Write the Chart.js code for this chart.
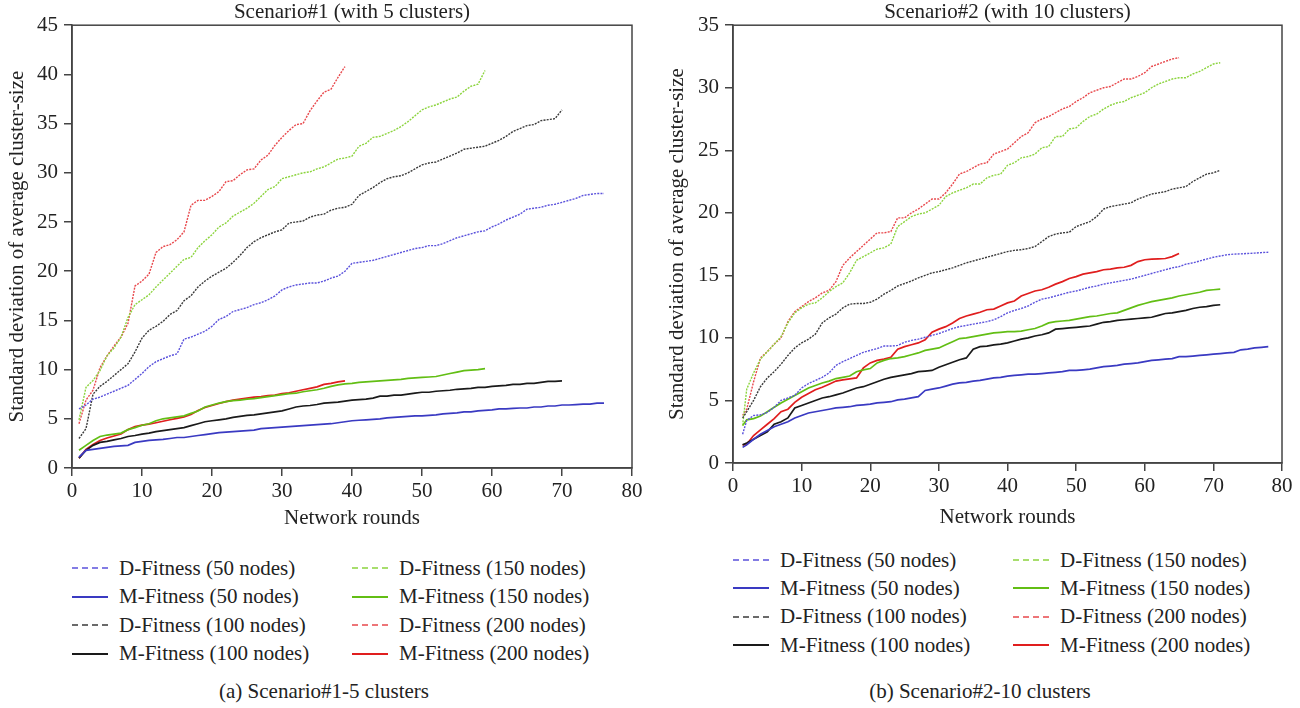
<!DOCTYPE html>
<html>
<head>
<meta charset="utf-8">
<script src="https://cdn.jsdelivr.net/npm/chart.js@4.4.1/dist/chart.umd.min.js"></script>
<style>
  body {
    margin: 0;
    background: #fff;
    width: 1300px;
    height: 708px;
    position: relative;
    overflow: hidden;
    font-family: "Liberation Serif", "Times New Roman", serif;
    color: #222;
  }
  canvas { position: absolute; top: 0; }
  #chart1 { left: 0; }
  #chart2 { left: 660px; }
  .legend-item {
    position: absolute;
    height: 28px;
    display: flex;
    align-items: center;
    white-space: nowrap;
    font-size: 21px;
  }
  .legend-item svg { margin-right: 11px; }
  .caption {
    position: absolute;
    top: 679px;
    font-size: 21px;
    white-space: nowrap;
    transform: translateX(-50%);
  }
</style>
</head>
<body>
<canvas id="chart1" width="650" height="531"></canvas>
<canvas id="chart2" width="640" height="530"></canvas>
<div id="legend1"></div>
<div id="legend2"></div>
<div class="caption" style="left:324px">(a) Scenario#1-5 clusters</div>
<div class="caption" style="left:980px">(b) Scenario#2-10 clusters</div>

<script>
const seriesNames = [
  "D-Fitness (50 nodes)", "M-Fitness (50 nodes)",
  "D-Fitness (100 nodes)", "M-Fitness (100 nodes)",
  "D-Fitness (150 nodes)", "M-Fitness (150 nodes)",
  "D-Fitness (200 nodes)", "M-Fitness (200 nodes)"
];

const xTicks = [0, 10, 20, 30, 40, 50, 60, 70, 80];

// Scenario#1 (5 clusters), one value per network round starting at round 1
const s1D50 = [6.0, 6.4, 7.0, 7.2, 7.5, 7.8, 8.1, 8.4, 9.0, 9.6, 10.3, 10.8, 11.1, 11.4, 11.6, 13.1, 13.3, 13.6, 13.9, 14.4,
  15.1, 15.4, 15.9, 16.1, 16.3, 16.6, 16.8, 17.1, 17.5, 18.1, 18.4, 18.6, 18.7, 18.8, 18.8, 19.0, 19.3, 19.5, 20.0, 20.8,
  20.9, 21.0, 21.1, 21.3, 21.5, 21.7, 21.9, 22.1, 22.3, 22.4, 22.6, 22.6, 22.8, 23.1, 23.4, 23.6, 23.8, 24.0, 24.1, 24.5,
  24.8, 25.2, 25.5, 25.8, 26.3, 26.4, 26.5, 26.7, 26.8, 27.0, 27.2, 27.4, 27.7, 27.8, 27.9, 27.9];
const s1M50 = [1.1, 1.8, 1.9, 2.0, 2.1, 2.2, 2.25, 2.3, 2.6, 2.7, 2.8, 2.85, 2.9, 3.0, 3.1, 3.1, 3.2, 3.3, 3.4, 3.5,
  3.6, 3.65, 3.7, 3.75, 3.8, 3.85, 4.0, 4.05, 4.1, 4.15, 4.2, 4.25, 4.3, 4.35, 4.4, 4.45, 4.5, 4.6, 4.7, 4.8,
  4.85, 4.9, 4.95, 5.0, 5.1, 5.15, 5.2, 5.25, 5.3, 5.3, 5.35, 5.4, 5.5, 5.55, 5.6, 5.7, 5.7, 5.8, 5.85, 5.9,
  6.0, 6.0, 6.05, 6.1, 6.1, 6.2, 6.2, 6.3, 6.3, 6.4, 6.4, 6.45, 6.5, 6.5, 6.6, 6.6];
const s1D100 = [3.0, 4.0, 7.5, 8.3, 8.8, 9.4, 10.0, 10.6, 11.8, 13.2, 14.0, 14.4, 14.9, 15.6, 16.0, 17.0, 17.5, 18.4, 19.0, 19.5,
  19.9, 20.3, 20.9, 21.6, 22.4, 23.0, 23.4, 23.7, 24.0, 24.2, 24.9, 25.0, 25.1, 25.5, 25.7, 25.8, 26.2, 26.4, 26.5, 26.8,
  27.7, 28.1, 28.5, 29.0, 29.4, 29.6, 29.7, 30.0, 30.4, 30.8, 31.0, 31.1, 31.4, 31.7, 32.0, 32.4, 32.5, 32.6, 32.7, 33.0,
  33.3, 33.7, 34.2, 34.5, 34.8, 34.9, 35.3, 35.4, 35.5, 36.4];
const s1M100 = [1.0, 1.8, 2.3, 2.6, 2.7, 2.85, 3.0, 3.2, 3.3, 3.45, 3.55, 3.7, 3.8, 3.9, 4.0, 4.1, 4.3, 4.5, 4.7, 4.8,
  4.9, 5.0, 5.15, 5.25, 5.35, 5.4, 5.5, 5.6, 5.7, 5.8, 6.0, 6.2, 6.3, 6.35, 6.45, 6.6, 6.65, 6.7, 6.8, 6.9,
  6.95, 7.0, 7.1, 7.3, 7.3, 7.4, 7.4, 7.5, 7.6, 7.7, 7.7, 7.8, 7.85, 7.9, 8.0, 8.05, 8.1, 8.2, 8.2, 8.3,
  8.35, 8.4, 8.5, 8.5, 8.6, 8.6, 8.7, 8.8, 8.8, 8.85];
const s1D150 = [4.9, 8.2, 8.9, 9.9, 11.4, 12.2, 13.3, 15.3, 16.6, 17.1, 17.6, 18.4, 19.1, 19.8, 20.5, 21.2, 21.4, 22.4, 23.1, 23.7,
  24.5, 24.9, 25.6, 26.0, 26.4, 26.9, 27.6, 28.3, 28.6, 29.4, 29.6, 29.8, 30.0, 30.1, 30.4, 30.6, 31.0, 31.4, 31.5, 31.7,
  32.7, 33.0, 33.6, 33.7, 34.0, 34.3, 34.7, 35.2, 35.8, 36.4, 36.7, 36.9, 37.2, 37.5, 37.7, 38.3, 38.8, 39.0, 40.4];
const s1M150 = [1.8, 2.3, 2.8, 3.2, 3.35, 3.45, 3.55, 3.9, 4.1, 4.35, 4.5, 4.8, 5.0, 5.1, 5.2, 5.3, 5.55, 5.8, 6.2, 6.4,
  6.6, 6.75, 6.85, 6.9, 7.0, 7.05, 7.15, 7.25, 7.35, 7.45, 7.55, 7.6, 7.75, 7.85, 7.95, 8.1, 8.3, 8.45, 8.55, 8.6,
  8.7, 8.75, 8.8, 8.85, 8.9, 8.95, 9.0, 9.1, 9.15, 9.2, 9.25, 9.3, 9.45, 9.6, 9.75, 9.9, 9.95, 10.0, 10.1];
const s1D200 = [4.5, 6.9, 7.9, 10.2, 11.4, 12.4, 13.3, 14.7, 18.5, 19.0, 19.7, 21.9, 22.5, 22.7, 23.2, 24.0, 26.7, 27.2, 27.2, 27.6,
  28.1, 29.1, 29.2, 29.8, 30.3, 30.4, 31.3, 31.8, 32.8, 33.6, 34.3, 34.9, 35.0, 36.3, 37.3, 38.2, 38.5, 39.7, 40.8];
const s1M200 = [1.0, 1.9, 2.4, 2.8, 3.05, 3.25, 3.45, 3.9, 4.2, 4.35, 4.45, 4.6, 4.75, 4.9, 5.05, 5.2, 5.45, 5.85, 6.15, 6.35,
  6.55, 6.75, 6.9, 7.0, 7.1, 7.2, 7.25, 7.35, 7.4, 7.55, 7.65, 7.8, 7.95, 8.1, 8.25, 8.5, 8.6, 8.75, 8.85];

// Scenario#2 (10 clusters), first sample sits a little after round 1
const s2D50 = [2.3, 3.4, 3.8, 3.85, 4.05, 4.45, 5.0, 5.2, 5.4, 6.0, 6.35, 6.6, 6.85, 7.2, 7.8, 8.1, 8.35, 8.6, 8.85, 9.0,
  9.15, 9.35, 9.35, 9.4, 9.65, 9.8, 9.9, 10.05, 10.2, 10.35, 10.55, 10.75, 10.9, 11.0, 11.1, 11.2, 11.3, 11.45, 11.7, 12.0,
  12.2, 12.35, 12.55, 12.85, 13.1, 13.2, 13.35, 13.5, 13.65, 13.75, 13.9, 14.05, 14.15, 14.3, 14.4, 14.5, 14.6, 14.7, 14.85, 15.0,
  15.15, 15.3, 15.45, 15.6, 15.7, 15.9, 16.0, 16.15, 16.3, 16.45, 16.55, 16.65, 16.7, 16.72, 16.75, 16.78, 16.82, 16.85];
const s2M50 = [1.25, 1.45, 1.9, 2.3, 2.6, 2.9, 3.1, 3.3, 3.6, 3.8, 4.0, 4.1, 4.2, 4.3, 4.4, 4.45, 4.5, 4.6, 4.65, 4.7,
  4.8, 4.85, 4.9, 5.05, 5.1, 5.2, 5.3, 5.8, 5.9, 6.0, 6.15, 6.3, 6.4, 6.45, 6.55, 6.6, 6.7, 6.8, 6.85, 6.95,
  7.0, 7.05, 7.1, 7.1, 7.15, 7.2, 7.25, 7.3, 7.4, 7.4, 7.45, 7.5, 7.6, 7.7, 7.75, 7.8, 7.9, 7.95, 8.0, 8.1,
  8.2, 8.25, 8.3, 8.35, 8.5, 8.5, 8.55, 8.6, 8.65, 8.7, 8.75, 8.8, 8.85, 9.05, 9.1, 9.2, 9.25, 9.3];
const s2D100 = [3.6, 4.1, 5.0, 6.1, 6.8, 7.3, 7.9, 8.6, 9.2, 9.6, 9.9, 10.3, 11.2, 11.6, 11.9, 12.4, 12.7, 12.75, 12.75, 12.85,
  13.1, 13.5, 13.8, 14.15, 14.35, 14.55, 14.8, 15.0, 15.2, 15.3, 15.45, 15.6, 15.8, 16.0, 16.15, 16.3, 16.45, 16.6, 16.75, 16.9,
  17.0, 17.05, 17.15, 17.3, 17.7, 18.1, 18.3, 18.4, 18.45, 18.9, 19.1, 19.3, 19.7, 20.3, 20.5, 20.6, 20.7, 20.8, 21.1, 21.3,
  21.5, 21.6, 21.7, 21.9, 22.0, 22.1, 22.5, 22.8, 23.1, 23.2, 23.4];
const s2M100 = [1.45, 1.6, 1.9, 2.2, 2.5, 3.1, 3.3, 3.6, 4.4, 4.6, 4.8, 5.0, 5.2, 5.3, 5.45, 5.6, 5.8, 6.0, 6.1, 6.3,
  6.5, 6.7, 6.85, 6.95, 7.05, 7.15, 7.3, 7.35, 7.4, 7.65, 7.85, 8.05, 8.25, 8.4, 9.1, 9.3, 9.35, 9.45, 9.5, 9.6,
  9.75, 9.9, 10.0, 10.15, 10.25, 10.4, 10.7, 10.75, 10.8, 10.85, 10.9, 10.95, 11.1, 11.25, 11.3, 11.4, 11.45, 11.5, 11.55, 11.6,
  11.65, 11.8, 11.95, 12.0, 12.1, 12.2, 12.35, 12.45, 12.5, 12.6, 12.65];
const s2D150 = [3.0, 5.9, 7.2, 8.3, 8.9, 9.5, 10.1, 11.2, 12.0, 12.4, 12.7, 12.8, 13.2, 13.7, 14.1, 14.4, 15.2, 16.2, 16.5, 16.8,
  17.1, 17.2, 17.5, 18.9, 19.3, 19.7, 19.9, 20.0, 20.3, 20.6, 21.3, 21.6, 21.8, 22.0, 22.3, 22.3, 22.8, 23.0, 23.1, 23.8,
  24.0, 24.4, 24.5, 24.7, 25.2, 25.3, 26.1, 26.1, 26.7, 26.8, 27.3, 27.7, 27.9, 28.3, 28.6, 28.8, 28.9, 29.2, 29.4, 29.6,
  30.0, 30.3, 30.5, 30.7, 30.8, 30.8, 31.1, 31.3, 31.6, 31.9, 32.0];
const s2M150 = [3.0, 3.45, 3.55, 3.75, 4.1, 4.45, 4.8, 5.1, 5.4, 5.7, 6.0, 6.2, 6.4, 6.55, 6.75, 6.85, 6.95, 7.3, 7.45, 7.55,
  8.0, 8.2, 8.35, 8.4, 8.5, 8.65, 8.8, 9.0, 9.1, 9.2, 9.45, 9.7, 9.95, 10.0, 10.1, 10.2, 10.3, 10.4, 10.45, 10.5,
  10.5, 10.55, 10.65, 10.75, 10.95, 11.2, 11.3, 11.35, 11.4, 11.5, 11.6, 11.7, 11.75, 11.85, 11.95, 12.0, 12.2, 12.4, 12.6, 12.75,
  12.9, 13.0, 13.1, 13.2, 13.35, 13.45, 13.55, 13.65, 13.8, 13.85, 13.9];
const s2D200 = [3.8, 4.3, 6.5, 8.4, 8.9, 9.5, 10.0, 11.3, 12.1, 12.5, 12.9, 13.2, 13.6, 13.8, 14.5, 15.8, 16.4, 16.9, 17.4, 17.9,
  18.4, 18.4, 18.5, 19.6, 19.6, 20.0, 20.3, 20.7, 21.1, 21.1, 21.6, 22.3, 23.1, 23.3, 23.6, 23.9, 24.0, 24.7, 24.9, 25.1,
  25.6, 26.1, 26.4, 27.2, 27.5, 27.7, 28.0, 28.3, 28.5, 28.9, 29.2, 29.6, 29.8, 30.0, 30.1, 30.4, 30.7, 30.7, 30.9, 31.2,
  31.7, 31.9, 32.1, 32.3, 32.4];
const s2M200 = [1.45, 1.5, 2.2, 2.65, 3.1, 3.55, 4.1, 4.3, 4.85, 5.25, 5.55, 5.85, 6.05, 6.3, 6.55, 6.65, 6.72, 6.8, 7.6, 8.0,
  8.2, 8.3, 8.45, 9.1, 9.3, 9.45, 9.6, 9.85, 10.45, 10.7, 10.9, 11.2, 11.55, 11.75, 11.9, 12.05, 12.25, 12.3, 12.55, 12.8,
  12.95, 13.35, 13.55, 13.75, 13.85, 14.05, 14.3, 14.5, 14.75, 14.9, 15.1, 15.2, 15.3, 15.45, 15.5, 15.6, 15.65, 15.8, 16.1, 16.25,
  16.3, 16.32, 16.35, 16.5, 16.75];

// line look per series, same order as seriesNames
const seriesStyles = [
  { color: "#5b52dc", dashed: true },
  { color: "#3a3ac2", dashed: false },
  { color: "#3a3a3a", dashed: true },
  { color: "#1a1a1a", dashed: false },
  { color: "#8cd43e", dashed: true },
  { color: "#62be14", dashed: false },
  { color: "#e8484c", dashed: true },
  { color: "#e01e1e", dashed: false }
];

const FONT = "'Liberation Serif', 'Times New Roman', serif";
const FONT_SIZE = 21;

// draws the closed box round the plot area
const framePlugin = {
  id: "frame",
  afterDatasetsDraw(chart) {
    const { ctx, chartArea: a } = chart;
    ctx.save();
    ctx.strokeStyle = "#444";
    ctx.lineWidth = 1.5;
    ctx.strokeRect(a.left, a.top, a.right - a.left, a.bottom - a.top);
    ctx.restore();
  }
};

function toPoints(values, firstRound) {
  return values.map((v, i) => ({ x: i === 0 ? firstRound : i + 1, y: v }));
}

function makeChart(canvasId, title, series, firstRound, yMax, yAxisWidth, xBandHeight) {
  const datasets = series.map((values, i) => {
    const st = seriesStyles[i];
    return {
      label: seriesNames[i],
      data: toPoints(values, firstRound),
      borderColor: st.color,
      borderWidth: st.dashed ? 1.4 : 1.7,
      borderDash: st.dashed ? [2, 1.2] : [],
      pointRadius: 0,
      fill: false,
      tension: 0
    };
  });

  const axisGrid = {
    display: true,
    drawOnChartArea: false,
    drawTicks: true,
    tickLength: 8,
    color: "#444",
    lineWidth: 1.5
  };

  return new Chart(document.getElementById(canvasId), {
    type: "line",
    data: { datasets },
    options: {
      responsive: false,
      animation: false,
      devicePixelRatio: 1,
      layout: { padding: { right: 18, left: 0, top: 0, bottom: 0 } },
      plugins: {
        legend: { display: false },
        tooltip: { enabled: false },
        title: {
          display: true,
          text: title,
          fullSize: false,
          color: "#222",
          font: { family: FONT, size: FONT_SIZE, weight: "normal", lineHeight: 1.2 },
          padding: { top: 0, bottom: 0 }
        }
      },
      scales: {
        x: {
          type: "linear",
          min: 0,
          max: 80,
          grid: axisGrid,
          border: { display: true, color: "#444", width: 1.5 },
          afterBuildTicks: (scale) => { scale.ticks = xTicks.map(v => ({ value: v })); },
          afterFit: (scale) => { scale.height = xBandHeight; },
          ticks: { color: "#222", padding: 3, maxRotation: 0, font: { family: FONT, size: FONT_SIZE } },
          title: {
            display: true,
            text: "Network rounds",
            color: "#222",
            font: { family: FONT, size: FONT_SIZE, lineHeight: 1.2 },
            padding: { top: 0, bottom: 0 }
          }
        },
        y: {
          min: 0,
          max: yMax,
          grid: axisGrid,
          border: { display: true, color: "#444", width: 1.5 },
          afterFit: (scale) => { scale.width = yAxisWidth; },
          ticks: { stepSize: 5, color: "#222", padding: 6, font: { family: FONT, size: FONT_SIZE } },
          title: {
            display: true,
            text: "Standard deviation of average cluster-size",
            color: "#222",
            font: { family: FONT, size: FONT_SIZE, lineHeight: 1.2 },
            padding: { top: 5, bottom: 0 }
          }
        }
      }
    },
    plugins: [framePlugin]
  });
}

// two-column legend, four entries per column, built from the chart datasets
function buildLegend(chart, holderId, columnsX, firstRowY, rowGap) {
  const holder = document.getElementById(holderId);
  chart.data.datasets.forEach((ds, i) => {
    const col = Math.floor(i / 4);
    const row = i % 4;
    const item = document.createElement("div");
    item.className = "legend-item";
    item.style.left = columnsX[col] + "px";
    item.style.top = (firstRowY + row * rowGap - 14) + "px";

    const dash = ds.borderDash.length ? 'stroke-dasharray="6 4"' : "";
    const width = ds.borderDash.length ? 1.4 : 2;
    item.innerHTML =
      `<svg width="36" height="6"><line x1="0" y1="3" x2="36" y2="3" stroke="${ds.borderColor}" stroke-width="${width}" ${dash}/></svg>` +
      `<span>${ds.label}</span>`;
    holder.appendChild(item);
  });
}

const chart1 = makeChart("chart1", "Scenario#1 (with 5 clusters)",
  [s1D50, s1M50, s1D100, s1M100, s1D150, s1M150, s1D200, s1M200], 1, 45, 72, 63);
const chart2 = makeChart("chart2", "Scenario#2 (with 10 clusters)",
  [s2D50, s2M50, s2D100, s2M100, s2D150, s2M150, s2D200, s2M200], 1.4, 35, 73, 67);

buildLegend(chart1, "legend1", [72, 352], 568, 28.5);
buildLegend(chart2, "legend2", [733, 1013], 560, 28.4);
</script>
</body>
</html>
